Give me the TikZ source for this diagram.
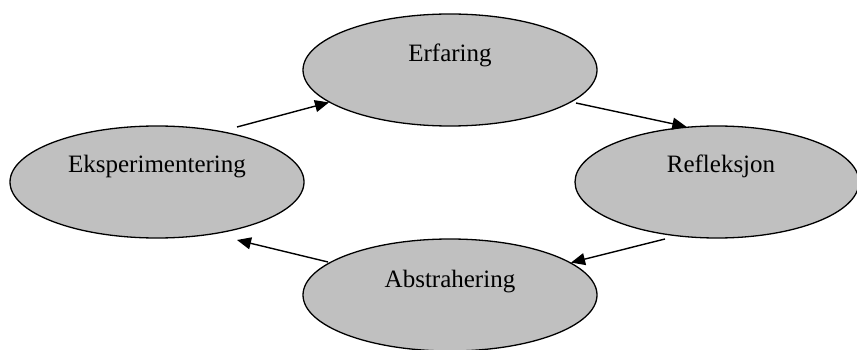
\documentclass[tikz,border=0pt]{standalone}
\usepackage{fontspec}
\setmainfont{Liberation Serif}
\usetikzlibrary{arrows.meta,shapes.geometric}
\begin{document}
\begin{tikzpicture}[x=1pt,y=-1pt,
  phase/.style={ellipse,draw=black,line width=1.3pt,fill={rgb,255:red,192;green,192;blue,192},
    minimum width=294pt,minimum height=112pt,inner sep=0pt},
  label/.style={anchor=base,font=\fontsize{25}{30}\selectfont},
  flow/.style={line width=1.4pt,-{Triangle[length=14pt,width=12pt]}}]
\useasboundingbox (0,0) rectangle (857,350);
\clip (0,0) rectangle (857,350);
% the four phases of the cycle
\node[phase] (erf) at (450,70) {};
\node[phase,minimum width=284pt] (ref) at (717,182) {};
\node[phase] (abs) at (450,295) {};
\node[phase] (eks) at (157,182) {};
\node[label] (terf) at (450,62) {Erfaring};
\node[label] (tref) at (721,173) {Refleksjon};
\node[label] (tabs) at (450,287) {Abstrahering};
\node[label] (teks) at (157,173) {Eksperimentering};
% free ends of the connectors
\coordinate (s1) at (237,127);
\coordinate (s2) at (576,103);
\coordinate (s3) at (665,239);
\coordinate (s4) at (328,262);
\coordinate (e4) at (237,240);
\draw[flow] (s1) -- (erf.195);
\draw[flow] (s2) -- (ref.119);
\draw[flow] (s3) -- (abs.15);
\draw[flow] (s4) -- (e4);
\end{tikzpicture}
\end{document}
